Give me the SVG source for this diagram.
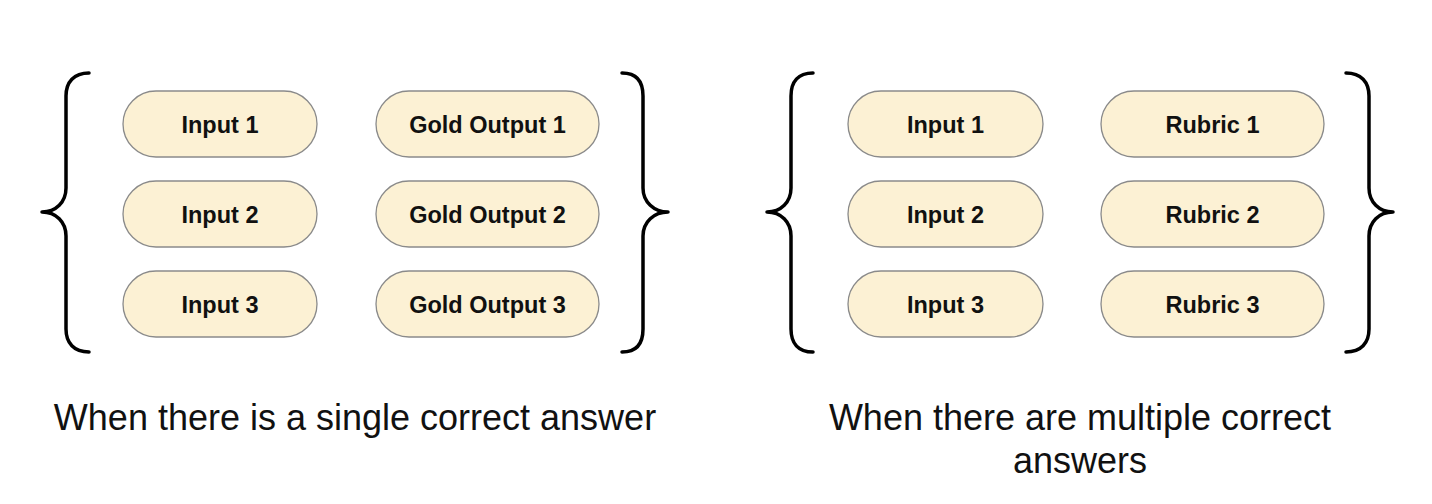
<svg xmlns="http://www.w3.org/2000/svg" width="1432" height="504" viewBox="0 0 1432 504">
<style>
.pill{fill:#fcf1d4;stroke:#8a8a8a;stroke-width:1.3}
.pt{font-family:"Liberation Sans",Arial,sans-serif;font-weight:bold;font-size:23.5px;fill:#111;text-anchor:middle}
.cap{font-family:"Liberation Sans",Arial,sans-serif;font-size:36px;fill:#111;text-anchor:middle}
.brace{fill:none;stroke:#000;stroke-width:3.5;stroke-linecap:round;stroke-linejoin:round}
</style>
<rect width="1432" height="504" fill="#fff"/>
<g id="connectors">
<path class="brace" d="M89,73 C74,73 66,82 66,96 L66,188 C66,202 56,212 42,212 C56,212 66,222 66,236 L66,329 C66,343 74,352 89,352"/>
<path class="brace" d="M622,73 C637,73 643,82 643,96 L643,188 C643,202 654,212 668,212 C654,212 643,222 643,236 L643,329 C643,343 637,352 622,352"/>
<path class="brace" d="M813,73 C798,73 791,82 791,96 L791,188 C791,202 781,212 767,212 C781,212 791,222 791,236 L791,329 C791,343 798,352 813,352"/>
<path class="brace" d="M1346,73 C1361,73 1369,82 1369,96 L1369,188 C1369,202 1379,212 1393,212 C1379,212 1369,222 1369,236 L1369,329 C1369,343 1361,352 1346,352"/>
</g>
<g id="in1a"><rect class="pill" x="123" y="91" width="194" height="66" rx="33"/><text class="pt" x="220" y="132.5">Input 1</text></g>
<g id="in2a"><rect class="pill" x="123" y="181" width="194" height="66" rx="33"/><text class="pt" x="220" y="222.5">Input 2</text></g>
<g id="in3a"><rect class="pill" x="123" y="271" width="194" height="66" rx="33"/><text class="pt" x="220" y="312.5">Input 3</text></g>
<g id="go1"><rect class="pill" x="376" y="91" width="223" height="66" rx="33"/><text class="pt" x="487.5" y="132.5">Gold Output 1</text></g>
<g id="go2"><rect class="pill" x="376" y="181" width="223" height="66" rx="33"/><text class="pt" x="487.5" y="222.5">Gold Output 2</text></g>
<g id="go3"><rect class="pill" x="376" y="271" width="223" height="66" rx="33"/><text class="pt" x="487.5" y="312.5">Gold Output 3</text></g>
<g id="in1b"><rect class="pill" x="848" y="91" width="195" height="66" rx="33"/><text class="pt" x="945.5" y="132.5">Input 1</text></g>
<g id="in2b"><rect class="pill" x="848" y="181" width="195" height="66" rx="33"/><text class="pt" x="945.5" y="222.5">Input 2</text></g>
<g id="in3b"><rect class="pill" x="848" y="271" width="195" height="66" rx="33"/><text class="pt" x="945.5" y="312.5">Input 3</text></g>
<g id="ru1"><rect class="pill" x="1101" y="91" width="223" height="66" rx="33"/><text class="pt" x="1212.5" y="132.5">Rubric 1</text></g>
<g id="ru2"><rect class="pill" x="1101" y="181" width="223" height="66" rx="33"/><text class="pt" x="1212.5" y="222.5">Rubric 2</text></g>
<g id="ru3"><rect class="pill" x="1101" y="271" width="223" height="66" rx="33"/><text class="pt" x="1212.5" y="312.5">Rubric 3</text></g>
<g id="cap1"><text class="cap" x="355" y="430">When there is a single correct answer</text></g>
<g id="cap2"><text class="cap" x="1080" y="430">When there are multiple correct</text><text class="cap" x="1080" y="473">answers</text></g>
</svg>
